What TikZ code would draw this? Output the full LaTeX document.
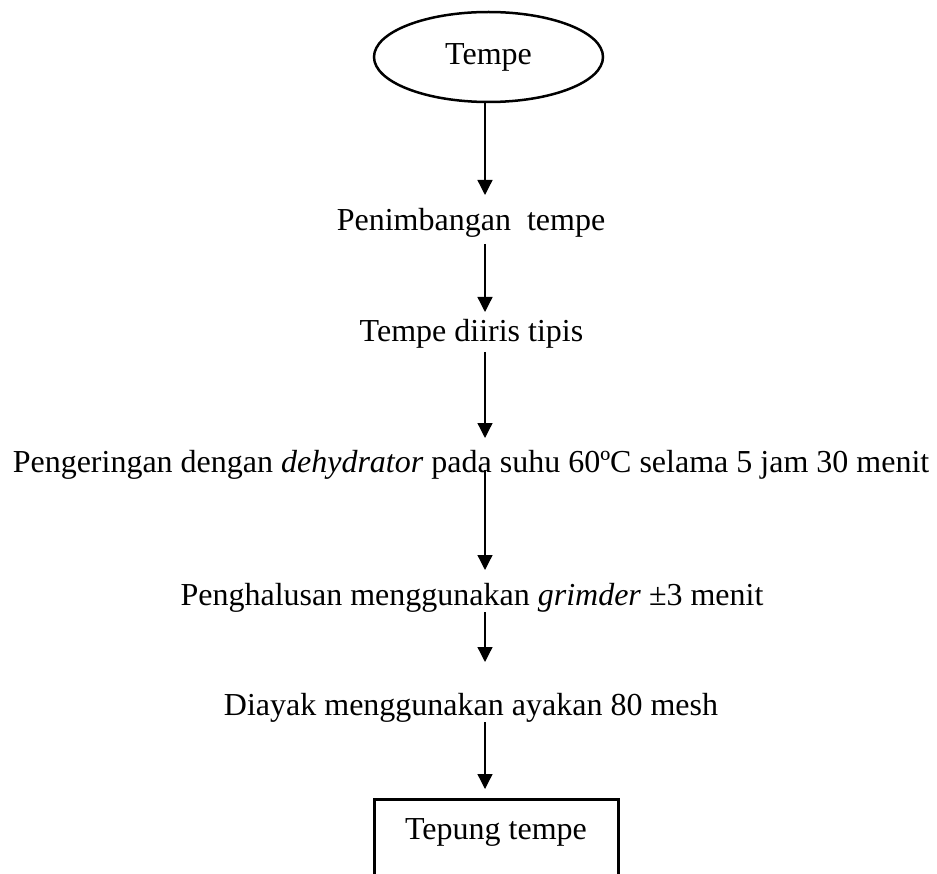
\documentclass[tikz,border=0pt]{standalone}
\usepackage{fontspec}
\setmainfont{Liberation Serif}
\usetikzlibrary{shapes.geometric,arrows.meta}
\begin{document}
\begin{tikzpicture}[x=1pt,y=-1pt,
  txt/.style={font=\fontsize{32}{38}\selectfont, inner sep=0pt, outer sep=0pt,
              text height=22pt, text depth=7pt, anchor=base},
  arr/.style={line width=1.3pt, -{Triangle[length=15pt,width=15pt]}},
  startnode/.style={ellipse, draw, line width=2.5pt, minimum width=229pt,
              minimum height=90pt, inner sep=0pt,
              font=\fontsize{32}{38}\selectfont, text height=22pt, text depth=7pt},
  endnode/.style={rectangle, draw, line width=3pt, minimum width=244pt,
              inner xsep=0pt, inner ysep=18pt, anchor=north,
              font=\fontsize{32}{38}\selectfont, text height=22pt, text depth=58pt}]
  \clip (0,0) rectangle (937,874);
  \coordinate (axis) at (485,0);

  \node[startnode] (e) at (488.5,57) {Tempe};
  \node[txt] (t1) at (471,231) {Penimbangan~~tempe};
  \node[txt] (t2) at (471.5,342) {Tempe diiris tipis};
  \node[txt] (t3) at (471,472) {Pengeringan dengan \textit{dehydrator} pada suhu 60ºC selama 5 jam 30 menit};
  \node[txt] (t4) at (472,605) {Penghalusan menggunakan \textit{grimder} ±3 menit};
  \node[txt] (t5) at (471,715) {Diayak menggunakan ayakan 80 mesh};
  \node[endnode] (b) at (496,798) {Tepung tempe};

  \draw[arr, shorten >=14pt] (e.south -| axis) -- (t1.north -| axis);
  \draw[arr, shorten <=6pt, shorten >=8pt] (t1.south -| axis) -- (t2.north -| axis);
  \draw[arr, shorten <=3pt, shorten >=12pt] (t2.south -| axis) -- (t3.north -| axis);
  \draw[arr, shorten <=-9pt, shorten >=13pt] (t3.south -| axis) -- (t4.north -| axis);
  \draw[arr, shorten >=31pt] (t4.south -| axis) -- (t5.north -| axis);
  \draw[arr, shorten >=9pt] (t5.south -| axis) -- (b.north -| axis);
\end{tikzpicture}
\end{document}
